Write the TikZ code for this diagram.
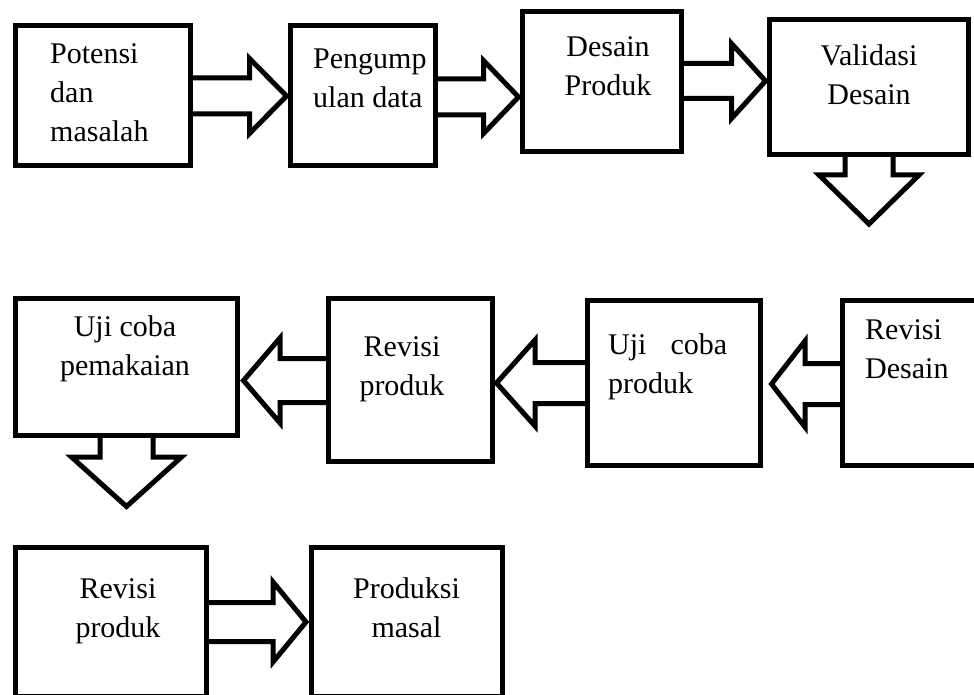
\documentclass[tikz,border=0pt]{standalone}
\usepackage{fontspec}
\setmainfont{Liberation Serif}
\usetikzlibrary{calc}

% right-pointing block arrow: from, to, y, shaft half, head half, head length, gap
\newcommand{\rarr}[7]{%
  \draw[blk] (#1.east |- 0,#3-#4)
    -- ($(#2.west |- 0,#3-#4)+(-#7-#6,0)$)
    -- ($(#2.west |- 0,#3-#5)+(-#7-#6,0)$)
    -- ($(#2.west |- 0,#3)+(-#7,0)$)
    -- ($(#2.west |- 0,#3+#5)+(-#7-#6,0)$)
    -- ($(#2.west |- 0,#3+#4)+(-#7-#6,0)$)
    -- (#1.east |- 0,#3+#4);}
% left-pointing block arrow
\newcommand{\larr}[7]{%
  \draw[blk] (#1.west |- 0,#3-#4)
    -- ($(#2.east |- 0,#3-#4)+(#7+#6,0)$)
    -- ($(#2.east |- 0,#3-#5)+(#7+#6,0)$)
    -- ($(#2.east |- 0,#3)+(#7,0)$)
    -- ($(#2.east |- 0,#3+#5)+(#7+#6,0)$)
    -- ($(#2.east |- 0,#3+#4)+(#7+#6,0)$)
    -- (#1.west |- 0,#3+#4);}
% down-pointing block arrow: from, tip, shaft half, head half, head length
\newcommand{\darr}[5]{%
  \draw[blk] ($(#1.south -| #2)+(-#3,0)$)
    -- ($(#2)+(-#3,-#5)$) -- ($(#2)+(-#4,-#5)$) -- (#2)
    -- ($(#2)+(#4,-#5)$) -- ($(#2)+(#3,-#5)$)
    -- ($(#1.south -| #2)+(#3,0)$);}

\begin{document}
\begin{tikzpicture}[x=1pt,y=-1pt,
  box/.style={draw,line width=5pt,outer sep=0pt,inner sep=0pt},
  blk/.style={line width=5pt,line join=miter},
  txt/.style={inner sep=0pt,font=\fontsize{30}{39}\selectfont}]

  \useasboundingbox (0,0) rectangle (974,695);
  \clip (0,0) rectangle (974,695);

  % row 1
  \node[box,minimum width=175,minimum height=140] (pot) at (103,95.5) {};
  \node[box,minimum width=145,minimum height=140] (peng) at (363,95.5) {};
  \node[box,minimum width=159,minimum height=140] (des) at (602,81.5) {};
  \node[box,minimum width=199,minimum height=135] (val) at (869,87) {};

  % row 2
  \node[box,minimum width=222.5,minimum height=136.5] (ujip) at (126.25,366.75) {};
  \node[box,minimum width=164,minimum height=163] (revp) at (410.5,380) {};
  \node[box,minimum width=173,minimum height=164.5] (ujiprod) at (674,382.75) {};
  \node[box,minimum width=147.5,minimum height=164.5] (revd) at (916.25,382.75) {};

  % row 3
  \node[box,minimum width=191.5,minimum height=148.5] (revp2) at (110.75,621.75) {};
  \node[box,minimum width=191,minimum height=148.5] (prod) at (407,621.75) {};

  % texts (anchored on the last line)
  \node[txt,anchor=base west,align=left] (tpot) at (50,142) {Potensi\\dan\\masalah};
  \node[txt,anchor=base west,align=left] (tpeng) at (313,108) {Pengump\\ulan data};
  \node[txt,anchor=base,align=center] (tdes) at (608,96) {Desain\\Produk};
  \node[txt,anchor=base,align=center] (tval) at (869,105) {Validasi\\Desain};
  \node[txt,anchor=base,align=center] (tujip) at (125,375) {Uji coba\\pemakaian};
  \node[txt,anchor=base,align=center] (trevp) at (402,395) {Revisi\\produk};
  \node[txt,anchor=base west,align=left] (tujiprod) at (608,393)
    {\makebox[119pt][s]{Uji\hfill coba}\\produk};
  \node[txt,anchor=base west,align=left] (trevd) at (865,378) {Revisi\\Desain};
  \node[txt,anchor=base,align=center] (trevp2) at (118,637) {Revisi\\produk};
  \node[txt,anchor=base,align=center] (tprod) at (406.5,637) {Produksi\\masal};

  % arrows
  \coordinate (tip1) at (869,224);
  \coordinate (tip2) at (126.5,506.5);
  \rarr{pot}{peng}{96}{18}{37.5}{37}{4}
  \rarr{peng}{des}{97}{18}{36.5}{35}{4}
  \rarr{des}{val}{81}{17.5}{37.5}{34}{4}
  \darr{val}{tip1}{24}{50}{49}
  \larr{revd}{ujiprod}{384}{20.5}{43}{33.5}{11}
  \larr{ujiprod}{revp}{383}{20.5}{43}{38.5}{4}
  \larr{revp}{ujip}{380.5}{22}{42.5}{36.5}{6}
  \darr{ujip}{tip2}{26.5}{55}{49.5}
  \rarr{revp2}{prod}{622}{19.5}{40}{33}{5.5}

\end{tikzpicture}
\end{document}
